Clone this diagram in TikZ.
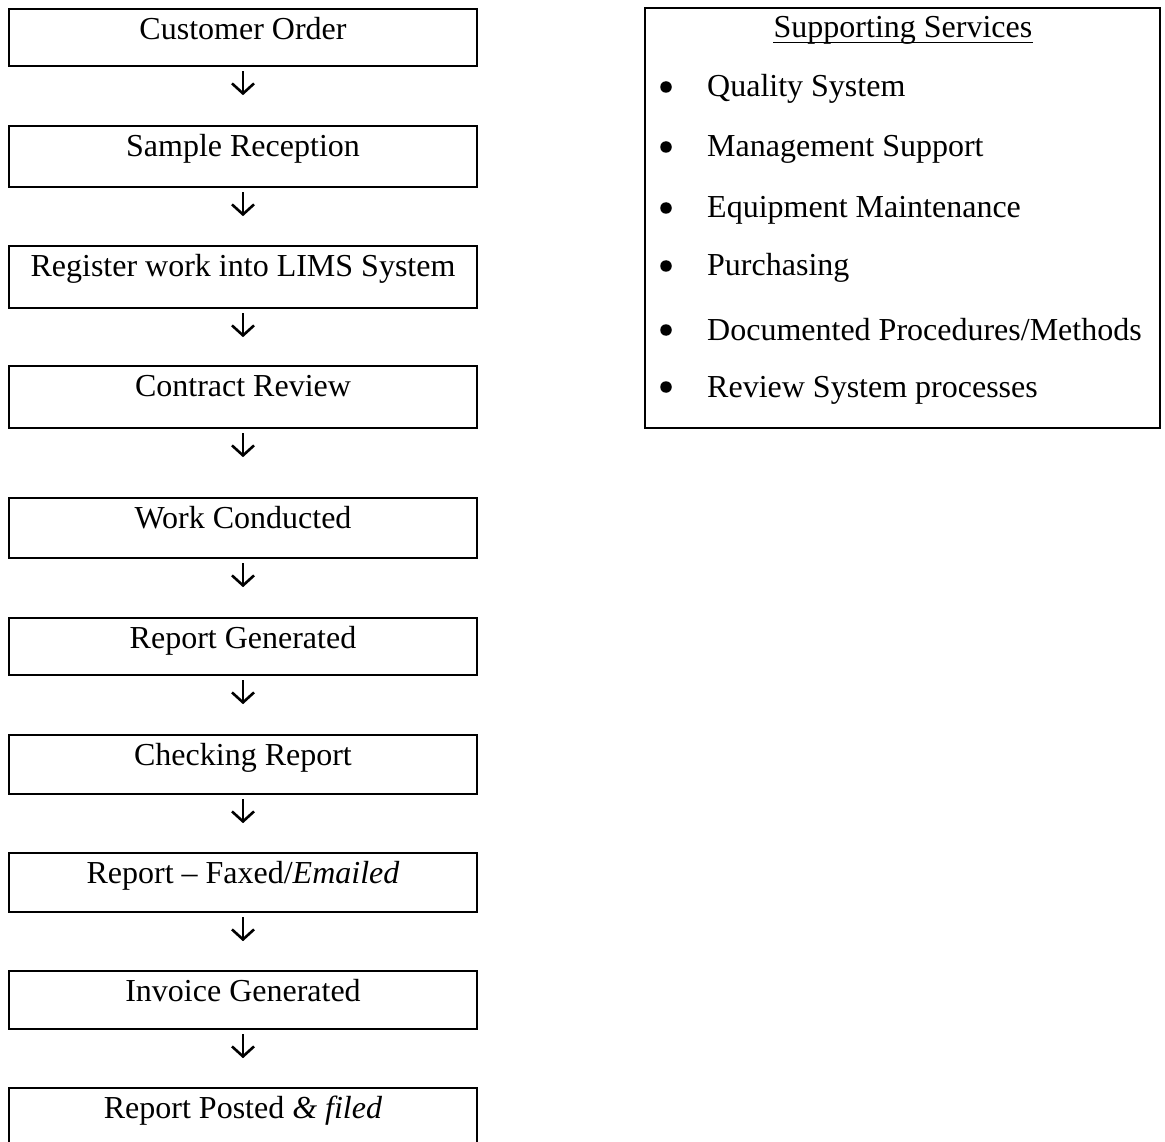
\documentclass[tikz,border=0pt]{standalone}
\usepackage{fontspec}
\setmainfont{Liberation Serif}
\usetikzlibrary{arrows.meta}
\begin{document}
\begin{tikzpicture}[x=1pt,y=-1pt,
  every node/.style={font=\fontsize{32}{38}\selectfont},
  stepbox/.style={draw, line width=2.2pt, anchor=north, minimum width=468pt,
    inner xsep=0pt, inner ysep=0pt, text height=30pt, align=center},
  arr/.style={line width=2.6pt, -{Straight Barb[length=10pt,width=22pt,line width=2.6pt]}},
  item/.style={anchor=base west, inner sep=0pt},
  dot/.style={circle, fill, inner sep=0pt, minimum size=11.5pt}]
\useasboundingbox (0,0) rectangle (1165,1142);

\node[stepbox, text depth=27pt] (b1) at (243,8) {Customer Order};
\node[stepbox, text depth=31pt] (b2) at (243,125) {Sample Reception};
\node[stepbox, text depth=32pt] (b3) at (243,245) {Register work into LIMS System};
\node[stepbox, text depth=32pt] (b4) at (243,365) {Contract Review};
\node[stepbox, text depth=30pt] (b5) at (243,497) {Work Conducted};
\node[stepbox, text depth=27pt] (b6) at (243,617) {Report Generated};
\node[stepbox, text depth=29pt] (b7) at (243,734) {Checking Report};
\node[stepbox, text depth=29pt] (b8) at (243,852) {Report -- Faxed/\textit{Emailed}};
\node[stepbox, text depth=28pt] (b9) at (243,970) {Invoice Generated};
\node[stepbox, text depth=45pt] (b10) at (243,1087) {Report Posted \textit{\& filed}};

\foreach \a in {b1,b2,b3,b4,b5,b6,b7,b8,b9}
  \draw[arr] ([yshift=-4pt]\a.south) -- ([yshift=-28pt]\a.south);

\node[draw, line width=2.2pt, anchor=north west, minimum width=515pt, minimum height=420pt, inner sep=0pt] (sup) at (644,7) {};
\node[anchor=base, inner sep=0pt] (ss) at (903,38) {Supporting Services};
\draw[line width=1.8pt] ([yshift=-4.5pt]ss.base west) -- ([yshift=-4.5pt]ss.base east);

\node[dot] (d1) at (666,87) {};
\node[item] (i1) at (707,97) {Quality System};
\node[dot] (d2) at (666,147) {};
\node[item] (i2) at (707,157) {Management Support};
\node[dot] (d3) at (666,208) {};
\node[item] (i3) at (707,218) {Equipment Maintenance};
\node[dot] (d4) at (666,266) {};
\node[item] (i4) at (707,276) {Purchasing};
\node[dot] (d5) at (666,330) {};
\node[item] (i5) at (707,340) {Documented Procedures/Methods};
\node[dot] (d6) at (666,387) {};
\node[item] (i6) at (707,397) {Review System processes};
\end{tikzpicture}
\end{document}
